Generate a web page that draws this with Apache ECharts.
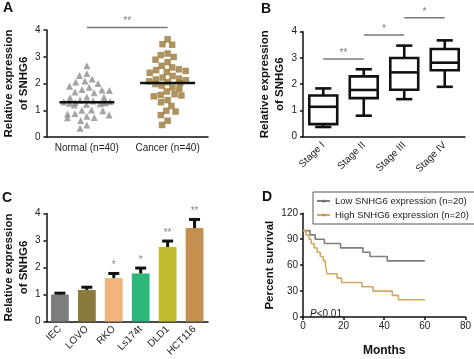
<!DOCTYPE html>
<html><head><meta charset="utf-8">
<script src="https://cdn.jsdelivr.net/npm/echarts@6/dist/echarts.min.js"></script>
<style>html,body{margin:0;padding:0;background:#fff}#c{width:474px;height:359px}</style>
</head><body><div id="c"></div>
<script>
// ---- Panel A data ----
const groupsA = ['Normal (n=40)', 'Cancer (n=40)'];
const normalA = [2.66, 2.37, 2.30, 2.17, 2.09, 2.06, 2.00, 1.90, 1.86, 1.78, 1.76, 1.74, 1.68, 1.65, 1.50, 1.49, 1.47, 1.38, 1.35, 1.33, 1.31, 1.30, 1.29, 1.28, 1.26, 1.24, 1.22, 1.20, 1.01, 1.00, 0.98, 0.88, 0.86, 0.82, 0.78, 0.73, 0.72, 0.62, 0.45, 0.33];
const cancerA = [3.65, 3.47, 3.45, 3.12, 3.06, 2.99, 2.89, 2.80, 2.66, 2.60, 2.53, 2.50, 2.47, 2.43, 2.40, 2.28, 2.22, 2.18, 2.15, 2.12, 2.08, 2.05, 2.02, 1.98, 1.92, 1.85, 1.80, 1.70, 1.60, 1.57, 1.55, 1.52, 1.38, 1.30, 1.16, 0.98, 0.95, 0.82, 0.61, 0.45];
const meansA = [1.30, 2.02];
const sigA = [[0, 1, 4.09]];
const sigALabels = ['**'];
// ---- Panel B data ----
const stagesB = ['Stage I', 'Stage II', 'Stage III', 'Stage IV'];
const boxB = [[0.37, 0.48, 1.14, 1.57, 1.84], [0.80, 1.47, 1.78, 2.30, 2.57], [1.43, 1.79, 2.45, 3.00, 3.47], [1.90, 2.53, 2.82, 3.34, 3.67]];
const sigB = [[0, 1, 2.96], [1, 2, 3.87], [2, 3, 4.53]];
const sigBLabels = ['**', '*', '*'];
// ---- Panel C data ----
const cellsC = ['IEC', 'LOVO', 'RKO', 'Ls174t', 'DLD1', 'HCT116'];
const meanC = [1.00, 1.17, 1.61, 1.78, 2.76, 3.46];
const errC = [0.05, 0.10, 0.17, 0.20, 0.22, 0.32];
const starsC = ['', '', '*', '*', '**', '**'];
const colorsC = ['#7d7e7a', '#8a7a3e', '#f3b47c', '#2db678', '#bfbd2f', '#c58f4f'];
// ---- Panel D data ----
const seriesNamesD = ['Low SNHG6 expression (n=20)', 'High SNHG6 expression (n=20)'];
const lowD = [[0, 100], [3.5, 95], [6, 90], [10.5, 85], [18.5, 80], [29.5, 75], [33, 70], [41.5, 65], [60, 65]];
const highD = [[0, 100], [1.5, 95], [3, 90], [4, 85], [5.5, 80], [7, 75], [8.5, 70], [10, 65], [11, 60], [11.8, 50], [16.8, 45], [19, 40], [29, 35], [34.5, 30], [44, 25], [47, 20], [60, 20]];

const FONT = 'Liberation Sans, Arial, sans-serif';
const AX = '#111';
const axisLine = {lineStyle: {color: AX, width: 1.5}};
const axisTick = {length: 3, lineStyle: {color: AX, width: 1.5}};
const lbl = (o) => Object.assign({fontSize: 10, color: '#222', fontFamily: FONT}, o || {});
const nameStyle = {fontWeight: 'bold', fontSize: 11.5, color: '#111', fontFamily: FONT, lineHeight: 15};

function bracket(labels) {
  return function (p, api) {
    const a = api.coord([api.value(0), api.value(2)]);
    const b = api.coord([api.value(1), api.value(2)]);
    return {type: 'group', children: [
      {type: 'line', shape: {x1: a[0], y1: a[1], x2: b[0], y2: b[1]}, style: {stroke: '#7a7a7a', lineWidth: 1.5}},
      {type: 'text', x: (a[0] + b[0]) / 2, y: a[1] - 1, style: {text: labels[p.dataIndex], fill: '#7a7a7a', font: '10px ' + FONT, align: 'center', verticalAlign: 'bottom'}}
    ]};
  };
}

const option = {
  animation: false,
  backgroundColor: '#fff',
  grid: [
    {left: 43, top: 30, width: 165, height: 107},
    {left: 303, top: 31.7, width: 162, height: 105},
    {left: 43, top: 213.5, width: 165, height: 109.5},
    {left: 303, top: 213.3, width: 162.5, height: 109.4}
  ],
  xAxis: [
    {gridIndex: 0, type: 'category', data: groupsA, jitter: 48, jitterOverlap: false, jitterMargin: 0.5,
      axisLine, axisTick: Object.assign({alignWithLabel: true}, axisTick), axisLabel: lbl({margin: 6, interval: 0})},
    {gridIndex: 1, type: 'category', data: stagesB, axisLine, axisTick: Object.assign({alignWithLabel: true}, axisTick),
      axisLabel: lbl({rotate: 45, margin: 7, interval: 0})},
    {gridIndex: 2, type: 'category', data: cellsC, axisLine, axisTick: Object.assign({alignWithLabel: true}, axisTick),
      axisLabel: lbl({rotate: 45, margin: 6, interval: 0})},
    {gridIndex: 3, type: 'value', min: 0, max: 80, interval: 20, axisLine: Object.assign({onZero: false}, axisLine), axisTick,
      axisLabel: lbl({margin: 4}), splitLine: {show: false},
      name: 'Months', nameLocation: 'middle', nameGap: 26, nameTextStyle: Object.assign({}, nameStyle, {fontSize: 12})}
  ],
  yAxis: [
    {gridIndex: 0, type: 'value', min: 0, max: 4, interval: 1, axisLine: Object.assign({show: true}, axisLine), axisTick: Object.assign({show: true}, axisTick),
      axisLabel: lbl({margin: 6}), splitLine: {show: false},
      name: 'Relative expression\nof SNHG6', nameLocation: 'middle', nameGap: 15, nameTextStyle: nameStyle},
    {gridIndex: 1, type: 'value', min: 0, max: 4, interval: 1, axisLine: Object.assign({show: true}, axisLine), axisTick: Object.assign({show: true}, axisTick),
      axisLabel: lbl({margin: 6}), splitLine: {show: false},
      name: 'Relative expression\nof SNHG6', nameLocation: 'middle', nameGap: 14, nameTextStyle: nameStyle},
    {gridIndex: 2, type: 'value', min: 0, max: 4, interval: 1, axisLine: Object.assign({show: true}, axisLine), axisTick: Object.assign({show: true}, axisTick),
      axisLabel: lbl({margin: 6}), splitLine: {show: false},
      name: 'Relative expression\nof SNHG6', nameLocation: 'middle', nameGap: 14, nameTextStyle: nameStyle},
    {gridIndex: 3, type: 'value', min: 0, max: 120, interval: 30, axisLine: Object.assign({show: true}, axisLine), axisTick: Object.assign({show: true}, axisTick),
      axisLabel: lbl({margin: 5}), splitLine: {show: false},
      name: 'Percent survival', nameLocation: 'middle', nameGap: 26, nameTextStyle: nameStyle}
  ],
  legend: {
    data: seriesNamesD, orient: 'vertical', left: 313, top: 192, itemWidth: 13, itemHeight: 4, itemGap: 4,
    padding: [4, 6, 4, 3], borderColor: '#555', borderWidth: 1,
    textStyle: {fontSize: 9.5, color: '#222', fontFamily: FONT}
  },
  graphic: [
    {type: 'text', left: 3, top: 1, style: {text: 'A', font: 'bold 14px ' + FONT, fill: '#111'}},
    {type: 'text', left: 261, top: 2, style: {text: 'B', font: 'bold 14px ' + FONT, fill: '#111'}},
    {type: 'text', left: 2, top: 191, style: {text: 'C', font: 'bold 14px ' + FONT, fill: '#111'}},
    {type: 'text', left: 262, top: 190, style: {text: 'D', font: 'bold 14px ' + FONT, fill: '#111'}},
    {type: 'text', left: 310, top: 309, style: {text: '{i|P}<0.01', font: '10px ' + FONT, fill: '#222',
      rich: {i: {fontStyle: 'italic', fontSize: 10, fontFamily: FONT, fill: '#222'}}}}
  ],
  series: [
    // Panel A
    {type: 'scatter', xAxisIndex: 0, yAxisIndex: 0, symbol: 'triangle', symbolSize: 7, itemStyle: {color: '#8e8e8e'},
      data: normalA.map(v => [0, v])},
    {type: 'scatter', xAxisIndex: 0, yAxisIndex: 0, symbol: 'rect', symbolSize: 6.5, itemStyle: {color: '#9a7838'},
      data: cancerA.map(v => [1, v])},
    {type: 'custom', xAxisIndex: 0, yAxisIndex: 0, z: 5, data: meansA.map((m, i) => [i, m]),
      renderItem: (p, api) => {
        const c = api.coord([api.value(0), api.value(1)]);
        const w = api.size([1, 0])[0] * 0.68;
        return {type: 'line', shape: {x1: c[0] - w / 2, y1: c[1], x2: c[0] + w / 2, y2: c[1]}, style: {stroke: '#111', lineWidth: 2.5}};
      }},
    {type: 'custom', xAxisIndex: 0, yAxisIndex: 0, data: sigA, encode: {x: [0, 1], y: 2}, renderItem: bracket(sigALabels)},
    // Panel B
    {type: 'custom', xAxisIndex: 1, yAxisIndex: 1, data: boxB.map((b, i) => [i].concat(b)), encode: {x: 0, y: [1, 2, 3, 4, 5]},
      renderItem: (p, api) => {
        const x = api.value(0);
        const lo = api.coord([x, api.value(1)]), q1 = api.coord([x, api.value(2)]), md = api.coord([x, api.value(3)]),
          q3 = api.coord([x, api.value(4)]), hi = api.coord([x, api.value(5)]);
        const band = api.size([1, 0])[0];
        const bw = band * 0.69, cw = band * 0.4, cx = md[0];
        const st = {stroke: '#111', lineWidth: 2.6, fill: null};
        return {type: 'group', children: [
          {type: 'rect', shape: {x: cx - bw / 2, y: q3[1], width: bw, height: q1[1] - q3[1]}, style: {stroke: '#111', lineWidth: 2.6, fill: '#fff'}},
          {type: 'line', shape: {x1: cx - bw / 2, y1: md[1], x2: cx + bw / 2, y2: md[1]}, style: st},
          {type: 'line', shape: {x1: cx, y1: q3[1], x2: cx, y2: hi[1]}, style: st},
          {type: 'line', shape: {x1: cx, y1: q1[1], x2: cx, y2: lo[1]}, style: st},
          {type: 'line', shape: {x1: cx - cw / 2, y1: hi[1], x2: cx + cw / 2, y2: hi[1]}, style: st},
          {type: 'line', shape: {x1: cx - cw / 2, y1: lo[1], x2: cx + cw / 2, y2: lo[1]}, style: st}
        ]};
      }},
    {type: 'custom', xAxisIndex: 1, yAxisIndex: 1, data: sigB, encode: {x: [0, 1], y: 2}, renderItem: bracket(sigBLabels)},
    // Panel C
    {type: 'bar', xAxisIndex: 2, yAxisIndex: 2, barWidth: '66%',
      data: meanC.map((v, i) => ({value: v, itemStyle: {color: colorsC[i]}}))},
    {type: 'custom', xAxisIndex: 2, yAxisIndex: 2, z: 5, data: meanC.map((v, i) => [i, v, v + errC[i]]), encode: {x: 0, y: [1, 2]},
      renderItem: (p, api) => {
        const x = api.value(0);
        const a = api.coord([x, api.value(1)]), b = api.coord([x, api.value(2)]);
        const cw = 11;
        return {type: 'group', children: [
          {type: 'line', shape: {x1: a[0], y1: a[1], x2: b[0], y2: b[1]}, style: {stroke: '#111', lineWidth: 3}},
          {type: 'line', shape: {x1: b[0] - cw / 2, y1: b[1], x2: b[0] + cw / 2, y2: b[1]}, style: {stroke: '#111', lineWidth: 3}},
          {type: 'text', x: b[0], y: b[1] - 3, style: {text: starsC[p.dataIndex], fill: '#888', font: '10px ' + FONT, align: 'center', verticalAlign: 'bottom'}}
        ]};
      }},
    // Panel D
    {type: 'line', name: seriesNamesD[0], xAxisIndex: 3, yAxisIndex: 3, step: 'end', showSymbol: false, symbol: 'circle', symbolSize: 3,
      itemStyle: {color: '#6f6f6f'}, lineStyle: {color: '#7f7f7f', width: 1.6}, data: lowD},
    {type: 'line', name: seriesNamesD[1], xAxisIndex: 3, yAxisIndex: 3, step: 'end', showSymbol: false, symbol: 'circle', symbolSize: 3,
      itemStyle: {color: '#b8924a'}, lineStyle: {color: '#d1aa60', width: 1.6}, data: highD}
  ]
};
const chart = echarts.init(document.getElementById('c'), null, {renderer: 'canvas'});
chart.setOption(option);
</script>
</body></html>
